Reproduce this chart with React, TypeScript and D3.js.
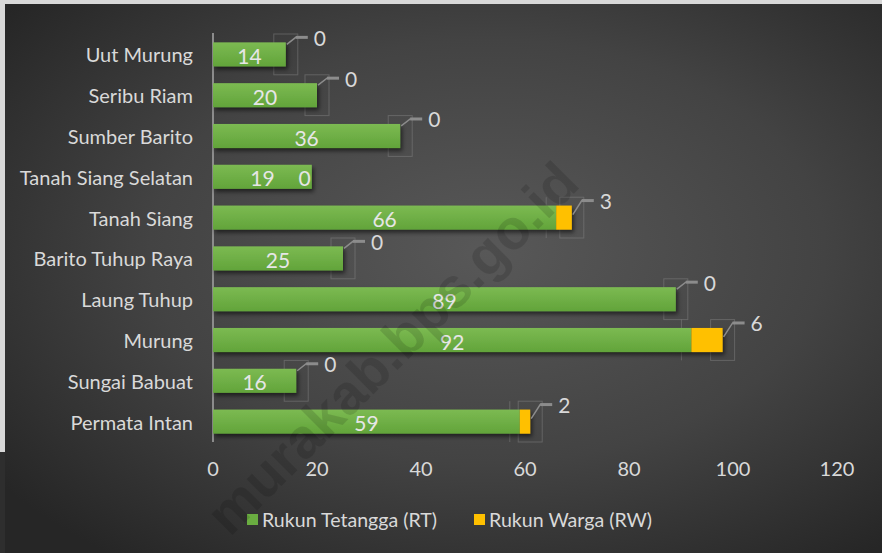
import React from "react";
import * as d3 from "d3";

const districts = [
  "Uut Murung",
  "Seribu Riam",
  "Sumber Barito",
  "Tanah Siang Selatan",
  "Tanah Siang",
  "Barito Tuhup Raya",
  "Laung Tuhup",
  "Murung",
  "Sungai Babuat",
  "Permata Intan",
];
const rukunTetangga = [14, 20, 36, 19, 66, 25, 89, 92, 16, 59];
const rukunWarga = [0, 0, 0, 0, 3, 0, 0, 6, 0, 2];
const rwLabelInside = ["Tanah Siang Selatan"];
const xTicks = [0, 20, 40, 60, 80, 100, 120];
const seriesNames = ["Rukun Tetangga (RT)", "Rukun Warga (RW)"];

const W = 882;
const H = 553;
const FONT = "Lato, 'Open Sans', sans-serif";
const GREEN = "#6aad41";
const YELLOW = "#ffc000";
const TXT = "#d9d9d9";

export default function App() {
  const x = d3.scaleLinear().domain([0, 120]).range([213, 837]);
  const y = d3
    .scaleBand<string>()
    .domain(districts)
    .range([34, 442])
    .paddingInner(0.41)
    .paddingOuter(0.205);
  const bw = y.bandwidth();
  const step = y.step();

  return (
    <svg
      width={W}
      height={H}
      style={{ position: "absolute", left: 0, top: 0 }}
      fontFamily={FONT}
    >
      <defs>
        <radialGradient id="bg" cx="0.55" cy="0.45" r="0.7">
          <stop offset="0" stopColor="#585858" />
          <stop offset="0.55" stopColor="#434343" />
          <stop offset="1" stopColor="#262626" />
        </radialGradient>
        <linearGradient id="gbar" x1="0" y1="0" x2="0" y2="1">
          <stop offset="0" stopColor="#7cba52" />
          <stop offset="1" stopColor="#62a43a" />
        </linearGradient>
        <filter id="shadow" x="-5%" y="-30%" width="115%" height="190%">
          <feDropShadow dx="2" dy="3" stdDeviation="2" floodColor="#000" floodOpacity="0.55" />
        </filter>
      </defs>

      <rect width={W} height={H} fill="#d8d8d8" />
      <rect x={0} y={452} width={6} height={H - 452} fill="#2e2e2e" />
      <rect x={5} y={4} width={W - 5} height={H - 4} fill="url(#bg)" />

      {/* callout frames */}
      <g stroke="#8a8a8a" strokeOpacity={0.45} fill="none" strokeWidth={1}>
        {districts.map((d, i) => {
          if (rwLabelInside.includes(d)) return null;
          const xe = x(rukunTetangga[i] + rukunWarga[i]);
          const top = (y(d) as number) - (step - bw) / 2;
          return (
            <g key={d}>
              <rect x={xe - 12} y={top} width={24} height={step} />
              {rukunWarga[i] > 0 && (
                <line x1={x(rukunTetangga[i]) - 10} x2={x(rukunTetangga[i]) - 10} y1={top} y2={top + step} />
              )}
            </g>
          );
        })}
      </g>

      {/* left axis line */}
      <line x1={213} x2={213} y1={33} y2={442} stroke="#8c8c8c" strokeWidth={2} />

      {/* bars */}
      <g filter="url(#shadow)">
        {districts.map((d, i) => (
          <g key={d}>
            <rect
              x={x(0)}
              y={y(d)}
              width={x(rukunTetangga[i]) - x(0)}
              height={bw}
              fill="url(#gbar)"
            />
            {rukunWarga[i] > 0 && (
              <rect
                x={x(rukunTetangga[i])}
                y={y(d)}
                width={x(rukunTetangga[i] + rukunWarga[i]) - x(rukunTetangga[i])}
                height={bw}
                fill={YELLOW}
              />
            )}
          </g>
        ))}
      </g>

      {/* RT labels */}
      {districts.map((d, i) => (
        <text
          key={d}
          x={(x(0) + x(rukunTetangga[i])) / 2}
          y={(y(d) as number) + bw / 2 + 1}
          textAnchor="middle"
          dominantBaseline="central"
          fontSize={21}
          fill="#e6e6e6"
        >
          {rukunTetangga[i]}
        </text>
      ))}

      {/* RW labels with leaders */}
      {districts.map((d, i) => {
        const xe = x(rukunTetangga[i] + rukunWarga[i]);
        const top = y(d) as number;
        if (rwLabelInside.includes(d)) {
          return (
            <text
              key={d}
              x={xe - 1}
              y={top + bw / 2 + 1}
              textAnchor="end"
              dominantBaseline="central"
              fontSize={21}
              fill="#e6e6e6"
            >
              {rukunWarga[i]}
            </text>
          );
        }
        const ly = top - 5;
        return (
          <g key={d}>
            <path
              d={`M${xe + 1},${top + (rukunWarga[i] > 0 ? 9 : 2)} L${xe + 10},${ly} L${xe + 14},${ly}`}
              stroke="#8c8c8c"
              strokeWidth={1.5}
              fill="none"
            />
            <line x1={xe + 10} x2={xe + 22} y1={ly} y2={ly} stroke="#8c8c8c" strokeWidth={3} />
            <text
              x={xe + 28}
              y={ly}
              dominantBaseline="central"
              fontSize={21}
              fill={TXT}
            >
              {rukunWarga[i]}
            </text>
          </g>
        );
      })}

      {/* category labels */}
      {districts.map((d) => (
        <text
          key={d}
          x={193}
          y={(y(d) as number) + bw / 2}
          textAnchor="end"
          dominantBaseline="central"
          fontSize={20}
          fill={TXT}
        >
          {d}
        </text>
      ))}

      {/* x tick labels */}
      {xTicks.map((t) => (
        <text
          key={t}
          x={x(t)}
          y={468}
          textAnchor="middle"
          dominantBaseline="central"
          fontSize={20}
          fill={TXT}
        >
          {t}
        </text>
      ))}

      {/* legend */}
      <rect x={247} y={514} width={11} height={11} fill={GREEN} />
      <text x={262} y={519} dominantBaseline="central" fontSize={20} fill={TXT} textLength={175} lengthAdjust="spacingAndGlyphs">
        {seriesNames[0]}
      </text>
      <rect x={474} y={514} width={11} height={11} fill={YELLOW} />
      <text x={489} y={519} dominantBaseline="central" fontSize={20} fill={TXT} textLength={163} lengthAdjust="spacingAndGlyphs">
        {seriesNames[1]}
      </text>

      {/* watermark */}
      <text
        x={392}
        y={348}
        transform="rotate(-45 392 348)"
        textAnchor="middle"
        dominantBaseline="central"
        fontSize={56}
        fontWeight="bold"
        fontFamily="'Liberation Sans', Arial, sans-serif"
        fill="#000"
        fillOpacity={0.13}
      >
        murakab.bps.go.id
      </text>
    </svg>
  );
}
